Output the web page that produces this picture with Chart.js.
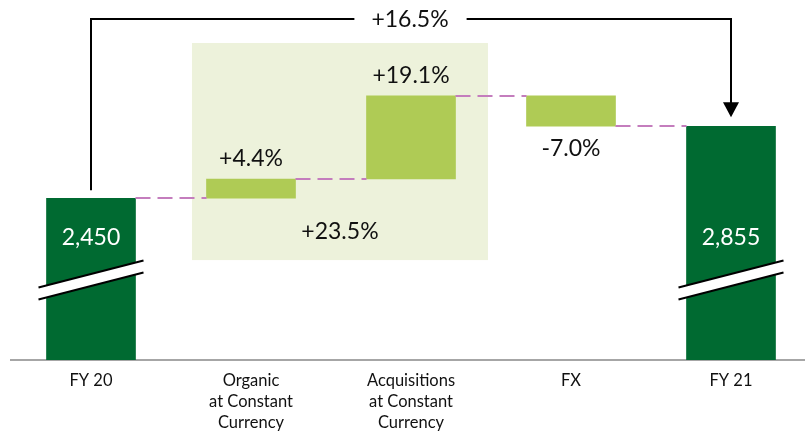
<!DOCTYPE html>
<html><head><meta charset="utf-8">
<script src="https://cdn.jsdelivr.net/npm/chart.js@4.4.1/dist/chart.umd.min.js"></script>
<style>html,body{margin:0;padding:0;background:#fff}#wrap{width:805px;height:433px;position:relative}</style>
</head><body><div id="wrap"><canvas id="c"></canvas></div>
<script>
// ---- data ----
const categories = [['FY 20'], ['Organic','at Constant','Currency'], ['Acquisitions','at Constant','Currency'], ['FX'], ['FY 21']];
const startValue = 2450;
const changes = [108, 468, -171];
const endValue = 2855;
const changeLabels = ['+4.4%', '+19.1%', '-7.0%'];
const totalLabels = ['2,450', '2,855'];
const totalChangeLabel = '+16.5%';
const constantCurrencyLabel = '+23.5%';

// ---- layout / style constants ----
const axisMin = 1540, axisMax = 3565;
const DARK = '#006A31', LIGHT = '#AFCB55', BOX = '#EDF2DB', DASH = '#C47DBD';
const FONT = 'Lato, "Noto Sans", sans-serif';
const boxRange = {x0: 0.631, x1: 2.481, y0: 3323, y1: 2102};
const totalLabelY = 2226;
const breakY = 1990;
const arrowTopY = 3458;
const subtotalPos = {x: 1.556, y: 2260};

// build floating bars
const bars = [];
let run = startValue;
bars.push({x: 0, y: [axisMin, startValue]});
changes.forEach((c, i) => { bars.push({x: i + 1, y: [run, run + c]}); run += c; });
bars.push({x: 4, y: [axisMin, endValue]});
const colors = [DARK, LIGHT, LIGHT, LIGHT, DARK];

const deco = {
  id: 'deco',
  beforeDatasetsDraw(chart) {
    const {ctx, scales: {x, y}} = chart;
    ctx.save();
    ctx.fillStyle = BOX;
    const bx0 = x.getPixelForValue(boxRange.x0), bx1 = x.getPixelForValue(boxRange.x1);
    const by0 = y.getPixelForValue(boxRange.y0), by1 = y.getPixelForValue(boxRange.y1);
    ctx.fillRect(bx0, by0, bx1 - bx0, by1 - by0);
    ctx.restore();
  },
  afterDatasetsDraw(chart) {
    const {ctx, scales: {x, y}} = chart;
    const els = chart.getDatasetMeta(0).data;
    ctx.save();
    // connectors
    ctx.strokeStyle = DASH; ctx.lineWidth = 2; ctx.setLineDash([15, 7]);
    let lvl = startValue;
    for (let i = 0; i < els.length - 1; i++) {
      if (i > 0) lvl += changes[i - 1];
      const py = Math.round(y.getPixelForValue(lvl));
      const a = els[i], b = els[i + 1];
      ctx.beginPath();
      ctx.moveTo(a.x + a.width / 2, py);
      ctx.lineTo(b.x - b.width / 2, py);
      ctx.stroke();
    }
    ctx.setLineDash([]);
    // break marks
    [0, 4].forEach(i => {
      const cx = els[i].x, yc = y.getPixelForValue(breakY);
      const hw = 52.5, hs = 13.5;
      ctx.fillStyle = '#fff';
      ctx.beginPath();
      ctx.moveTo(cx - hw, yc - 6 + hs);
      ctx.lineTo(cx + hw, yc - 6 - hs);
      ctx.lineTo(cx + hw, yc + 6 - hs);
      ctx.lineTo(cx - hw, yc + 6 + hs);
      ctx.closePath(); ctx.fill();
      ctx.strokeStyle = '#000'; ctx.lineWidth = 2;
      [-6, 6].forEach(o => {
        ctx.beginPath();
        ctx.moveTo(cx - hw, yc + o + hs);
        ctx.lineTo(cx + hw, yc + o - hs);
        ctx.stroke();
      });
    });
    // labels
    ctx.textAlign = 'center'; ctx.textBaseline = 'middle';
    ctx.font = '23px ' + FONT;
    ctx.fillStyle = '#fff';
    ctx.fillText(totalLabels[0], els[0].x, y.getPixelForValue(totalLabelY));
    ctx.fillText(totalLabels[1], els[4].x, y.getPixelForValue(totalLabelY));
    ctx.fillStyle = '#111';
    changes.forEach((c, i) => {
      const e = els[i + 1];
      const top = Math.min(e.y, e.base), bot = Math.max(e.y, e.base);
      if (c >= 0) ctx.fillText(changeLabels[i], e.x, top - 20);
      else ctx.fillText(changeLabels[i], e.x, bot + 22);
    });
    ctx.fillText(constantCurrencyLabel, x.getPixelForValue(subtotalPos.x), y.getPixelForValue(subtotalPos.y));
    // total arrow
    const x0 = els[0].x, x4 = els[4].x;
    const ty = Math.round(y.getPixelForValue(arrowTopY));
    const lx = x.getPixelForValue(2) - 1;
    const tw = ctx.measureText(totalChangeLabel).width;
    const g0 = lx - tw / 2 - 17, g1 = lx + tw / 2 + 18;
    ctx.strokeStyle = '#000'; ctx.lineWidth = 2; ctx.lineJoin = 'miter';
    ctx.beginPath();
    ctx.moveTo(x0, Math.min(els[0].y, els[0].base) - 8);
    ctx.lineTo(x0, ty); ctx.lineTo(g0, ty);
    ctx.moveTo(g1, ty); ctx.lineTo(x4, ty);
    const tip = Math.min(els[4].y, els[4].base) - 9;
    ctx.lineTo(x4, tip - 12);
    ctx.stroke();
    ctx.fillStyle = '#000';
    ctx.beginPath();
    ctx.moveTo(x4 - 8, tip - 15); ctx.lineTo(x4 + 8, tip - 15); ctx.lineTo(x4, tip);
    ctx.closePath(); ctx.fill();
    ctx.fillStyle = '#111';
    ctx.fillText(totalChangeLabel, lx, ty + 1);
    ctx.restore();
  }
};

function make() {
  new Chart(document.getElementById('c'), {
    type: 'bar',
    data: { datasets: [{ data: bars, backgroundColor: colors, borderWidth: 0, barThickness: 89 }] },
    options: {
      responsive: true, maintainAspectRatio: false, animation: false,
      layout: { padding: { left: 11, top: 0, right: 0, bottom: 0 } },
      plugins: { legend: { display: false }, tooltip: { enabled: false } },
      scales: {
        x: {
          type: 'linear', min: -0.5, max: 4.4625, offset: false,
          grid: { display: false, offset: false },
          border: { display: true, color: '#A6A6A6', width: 2 },
          afterBuildTicks: s => { s.ticks = [0, 1, 2, 3, 4].map(v => ({ value: v })); },
          afterFit: s => { s.height = 73; },
          ticks: {
            autoSkip: false, maxRotation: 0, padding: 2, color: '#111',
            font: { family: FONT, size: 16.5, lineHeight: '21px' },
            callback: v => categories[v]
          }
        },
        y: { display: false, min: axisMin, max: axisMax }
      }
    },
    plugins: [deco]
  });
}
if (document.fonts && document.fonts.load) {
  Promise.all([document.fonts.load('23px Lato'), document.fonts.load('16px Lato')]).then(make, make);
} else make();
</script></body></html>
